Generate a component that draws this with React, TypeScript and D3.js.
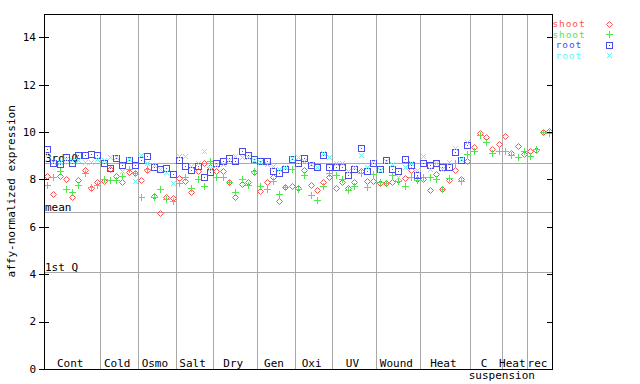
import React from "react";
import * as d3 from "d3";

const groupLabels = ["Cont", "Cold", "Osmo", "Salt", "Dry", "Gen", "Oxi", "UV", "Wound", "Heat", "C", "Heat", "rec"];
const groupSizes = [9, 6, 6, 6, 7, 6, 6, 7, 7, 8, 5, 4, 4];
const subLabel = "suspension";

const shootRed = [
  8.15, 7.39, 8.15, 8.03, 7.25, 7.98, 8.40, 7.64, 7.89,
  7.95, 8.46, 8.15, 7.89, 8.32, 8.26,
  7.98, 8.40, 7.30, 6.57, 7.25, 7.20,
  8.06, 7.92, 7.47, 8.34, 8.68, 8.54,
  8.34, 8.34, 7.89, 7.27, 7.81, 7.89, 8.32,
  7.53, 7.89, 8.09, 7.11, 7.67, 7.72,
  7.64, 8.40, 7.75, 7.56, 7.89, 8.09,
  7.62, 7.90, 7.64, 7.90, 8.34, 7.95, 7.92,
  7.84, 7.84, 7.88, 7.98, 8.06, 8.40, 8.01,
  8.01, 7.54, 8.23, 7.58, 7.98, 8.38, 8.02, 8.76,
  9.36, 9.98, 9.78, 9.27, 9.50,
  9.84, 9.10, 9.41, 9.08,
  9.19, 9.24, 10.0, 10.06,
];
const shootGreen = [
  7.75, 8.12, 8.34, 7.58, 7.47, 7.78, 8.29, 7.70, 7.78,
  8.01, 7.98, 7.98, 8.15, 8.43, 8.26,
  7.25, 8.45, 7.25, 7.58, 7.19, 7.08,
  7.84, 8.09, 7.64, 8.03, 7.72, 8.77,
  8.09, 8.09, 7.90, 7.47, 8.01, 7.75, 8.34,
  7.72, 7.61, 7.92, 7.39, 7.67, 8.43,
  7.61, 8.20, 7.33, 7.13, 7.72, 8.26,
  8.17, 8.03, 7.56, 7.72, 8.26, 7.67, 8.23,
  7.89, 7.84, 8.17, 7.95, 7.72, 8.09, 7.98,
  8.09, 8.09, 8.01, 7.58, 8.06, 8.68, 7.95, 9.07,
  9.22, 9.89, 9.60, 9.10, 9.19,
  9.19, 9.02, 8.96, 9.19,
  8.99, 9.30, 10.0, 9.95,
];
const rootBlue = [
  9.27, 8.68, 8.65, 8.94, 8.68, 9.02, 9.05, 9.07, 9.02,
  8.71, 8.48, 8.90, 8.60, 8.82, 8.60,
  8.82, 8.99, 8.54, 8.43, 8.48, 8.23,
  8.82, 8.57, 8.40, 8.57, 8.09, 8.32,
  8.71, 8.77, 8.91, 8.79, 9.21, 9.05, 8.88,
  8.79, 8.79, 8.34, 8.29, 8.43, 8.85,
  8.71, 8.91, 8.62, 8.54, 9.05, 8.51,
  8.51, 8.54, 8.17, 8.43, 9.33, 8.34, 8.71,
  8.43, 8.82, 8.43, 8.34, 8.85, 8.60, 8.17,
  8.68, 8.60, 8.68, 8.54, 8.51, 9.14, 8.82, 9.44,
  null, null, null, null, null,
  null, null, null, null,
  null, null, null, null,
];
const rootCyan = [
  9.07, 8.72, 8.75, 8.85, 8.80, 8.82, 8.74, 8.74, 8.85,
  8.80, 8.94, 8.94, 8.34, 8.88, 7.95,
  9.03, 8.68, 8.62, 8.46, 8.32, 7.83,
  9.00, 9.00, 8.55, 8.70, 9.21, 8.50,
  8.60, 8.66, 8.80, 8.99, 8.95, 8.93, 8.82,
  8.75, 8.65, 8.57, 8.43, 8.51, 8.90,
  8.95, 8.79, 8.65, 8.54, 9.10, 8.95,
  8.68, 8.68, 8.34, 8.51, 9.02, 8.51, 8.74,
  8.40, 8.76, 8.65, 8.12, 8.51, 8.71, 8.40,
  8.99, 8.43, 8.68, 8.46, 8.74, 9.33, 8.88, 9.59,
  null, null, null, null, null,
  null, null, null, null,
  null, null, null, null,
];

const refLabels = ["3rd Q", "mean", "1st Q"];
const refValues = [8.68, 6.61, 4.08];
const yTicks = [0, 2, 4, 6, 8, 10, 12, 14];

const seriesNames = ["shoot", "shoot", "root", "root"];
const seriesColors = ["#ff4f4f", "#4fe64f", "#4c4cee", "#66f2f2"];
const seriesShapes = ["diamond", "plus", "square", "cross"];
const seriesData = [shootRed, shootGreen, rootBlue, rootCyan];

const W = 640, H = 384;
const L = 44, R = 552, T = 13.6, B = 369;
const FONT = "'DejaVu Sans Mono', monospace";
const GRID = "#a8a8a8";

function Marker({ shape, x, y, color }: { shape: string; x: number; y: number; color: string }) {
  const cx = Math.round(x) + 0.5;
  const cy = Math.round(y) + 0.5;
  if (shape === "diamond") {
    return <path d={`M${cx},${cy - 3}L${cx + 3},${cy}L${cx},${cy + 3}L${cx - 3},${cy}Z`} fill="none" stroke={color} strokeWidth={1} />;
  }
  if (shape === "plus") {
    return <path d={`M${cx - 3.5},${cy}H${cx + 3.5}M${cx},${cy - 3.5}V${cy + 3.5}`} stroke={color} strokeWidth={1} shapeRendering="crispEdges" />;
  }
  if (shape === "square") {
    return (
      <g shapeRendering="crispEdges">
        <rect x={cx - 3} y={cy - 3} width={6} height={6} fill="none" stroke={color} strokeWidth={1} />
        <rect x={cx - 0.5} y={cy - 0.5} width={1} height={1} fill={color} />
      </g>
    );
  }
  return <path d={`M${cx - 2.5},${cy - 2.5}L${cx + 2.5},${cy + 2.5}M${cx + 2.5},${cy - 2.5}L${cx - 2.5},${cy + 2.5}`} stroke={color} strokeWidth={1} />;
}

export default function App() {
  const n = groupSizes.reduce((a, b) => a + b, 0);
  const x = d3.scaleLinear().domain([0, n]).range([L, R]);
  const y = d3.scaleLinear().domain([0, 15]).range([B, T]);
  const cum: number[] = [];
  let acc = 0;
  groupSizes.forEach((s) => { cum.push(acc); acc += s; });
  const px = (v: number) => Math.round(v) + 0.5;

  return (
    <svg width={W} height={H} style={{ position: "absolute", left: 0, top: 0, background: "#fff" }} fontFamily={FONT}>
      <rect width={W} height={H} fill="#fff" />
      {cum.slice(1).map((c, i) => (
        <line key={"s" + i} x1={px(x(c))} x2={px(x(c))} y1={T} y2={B} stroke={GRID} strokeWidth={1} shapeRendering="crispEdges" />
      ))}
      {refValues.map((v, i) => (
        <g key={"r" + i}>
          <line x1={L} x2={R} y1={px(y(v))} y2={px(y(v))} stroke={GRID} strokeWidth={1} shapeRendering="crispEdges" />
          <text x={45} y={Math.round(y(v)) - 1} fontSize={11} fill="#000">{refLabels[i]}</text>
        </g>
      ))}
      {seriesData.map((arr, si) => (
        <g key={"g" + si}>
          {arr.map((v, i) => v == null ? null : (
            <Marker key={i} shape={seriesShapes[si]} x={x(i + 0.5)} y={y(v)} color={seriesColors[si]} />
          ))}
        </g>
      ))}
      <rect x={px(L)} y={px(T)} width={Math.round(R) - Math.round(L)} height={Math.round(B) - Math.round(T)} fill="none" stroke="#000" strokeWidth={1} shapeRendering="crispEdges" />
      {yTicks.map((t) => (
        <g key={"t" + t}>
          <line x1={39} x2={49} y1={px(y(t))} y2={px(y(t))} stroke="#000" shapeRendering="crispEdges" />
          <line x1={547} x2={552} y1={px(y(t))} y2={px(y(t))} stroke="#000" shapeRendering="crispEdges" />
          <text x={36} y={y(t)} dy="0.35em" textAnchor="end" fontSize={11} fill="#000">{t}</text>
        </g>
      ))}
      {groupLabels.map((g, i) => (
        <text key={"l" + i} x={x(cum[i] + groupSizes[i] / 2) - 2} y={367} textAnchor="middle" fontSize={11} fill="#000">{g}</text>
      ))}
      <text x={x(cum[11])} y={379} textAnchor="middle" fontSize={11} fill="#000">{subLabel}</text>
      <text transform={`translate(15,${(T + B) / 2}) rotate(-90)`} textAnchor="middle" fontSize={11} fill="#000">affy-normalized expression</text>
      {seriesNames.map((s, i) => (
        <g key={"lg" + i}>
          <text x={569} y={24 + i * 10.6} dy="0.33em" textAnchor="middle" fontSize={9.5} letterSpacing={0.9} fill={seriesColors[i]}>{s}</text>
          <Marker shape={seriesShapes[i]} x={609} y={23.5 + i * 10.6} color={seriesColors[i]} />
        </g>
      ))}
    </svg>
  );
}
